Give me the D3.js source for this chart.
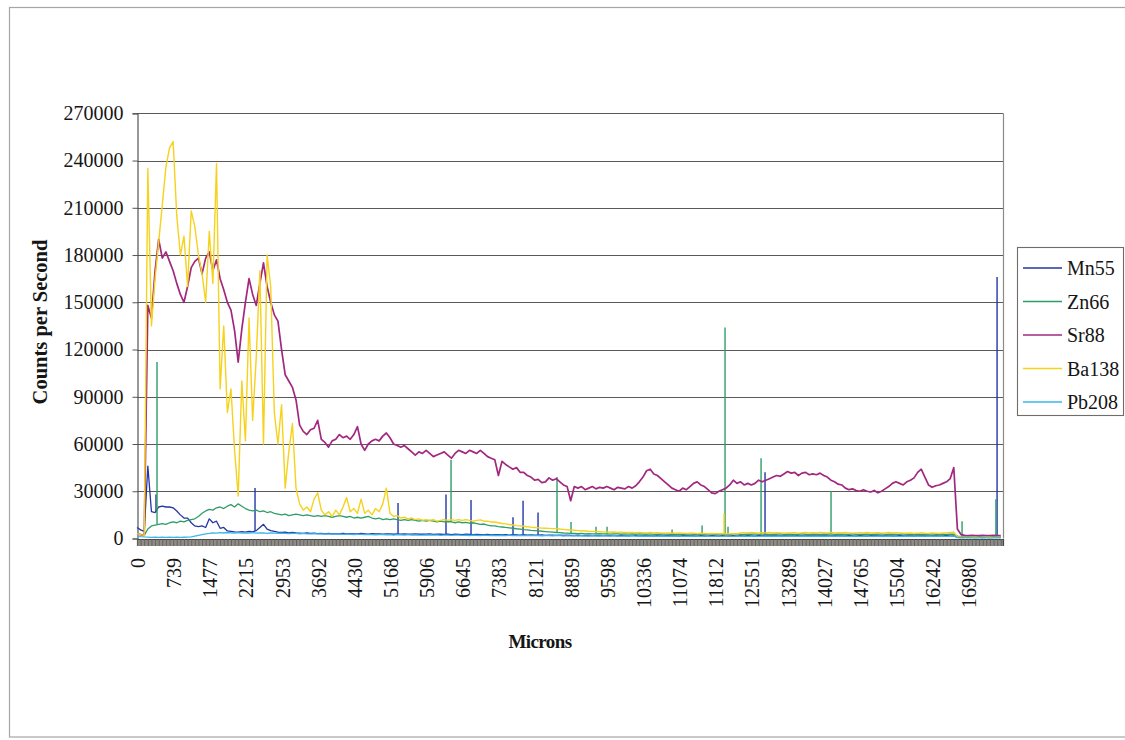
<!DOCTYPE html>
<html>
<head>
<meta charset="utf-8">
<script src="https://cdn.jsdelivr.net/npm/d3@7"></script>
<style>
  html, body { margin: 0; padding: 0; background: #ffffff; }
  svg { display: block; }
  text { font-family: "Liberation Serif", "Times New Roman", serif; fill: #151515; }
</style>
</head>
<body>
<svg id="chart" width="1125" height="740"></svg>
<script>
// Laser-ablation transect: counts per second vs. distance along the track.
const STEP = 73.826;           // microns between samples
const X_MAX = 17690;           // extent of the category axis, microns

const seriesNames = ["Mn55", "Zn66", "Sr88", "Ba138", "Pb208"];
const seriesColors = ["#2236a6", "#2f9d68", "#a2287f", "#f6d21c", "#3cb6ea"];
const seriesWidths = [1.3, 1.3, 1.7, 1.4, 1.3];

const xTickLabels = ["0", "739", "1477", "2215", "2953", "3692", "4430", "5168", "5906",
  "6645", "7383", "8121", "8859", "9598", "10336", "11074", "11812", "12551", "13289",
  "14027", "14765", "15504", "16242", "16980"];
const yTicks = [0, 30000, 60000, 90000, 120000, 150000, 180000, 210000, 240000, 270000];

const mn55 = [
  7000,5500,4500,46000,17000,16500,20000,20500,20000,20000,
  19500,17500,15000,13000,13000,10000,8000,7500,8000,7000,
  12500,10000,11000,6500,7000,4800,4500,4200,4000,4300,
  4000,4500,4200,5000,7000,9000,6000,5000,4500,4000,
  3800,4000,3600,3800,3500,3400,3300,3500,3200,3400,
  3100,3300,3000,3200,2900,3100,3000,3300,2900,3100,
  3000,2900,3200,3000,2800,3100,2900,3000,2800,3000,
  2900,2700,3000,2800,2900,2700,2800,3000,2700,2800,
  2700,2900,2600,2800,2700,2600,2800,2500,2700,2600,
  2500,2700,2600,2400,2600,2500,2400,2600,2300,2500,
  2400,2300,2500,2200,2400,2300,2200,2400,2100,2300,
  2200,2100,2300,2000,2200,2100,2000,2200,1900,2100,
  2000,1900,2100,1800,2000,1900,1800,2000,1900,1800,
  2000,1800,1900,1700,1900,1800,1700,1900,1800,1700,
  1900,1700,1800,1600,1800,1700,1900,1600,1800,1700,
  1600,1800,1700,1900,1600,1700,1800,1600,1700,1900,
  1700,1600,1800,1700,1600,1800,1700,1900,1600,1800,
  1700,1600,1800,1700,1900,1700,1600,1800,1700,1600,
  1800,1700,1900,1600,1700,1800,1600,1700,1900,1700,
  1600,1800,1700,1600,1800,1700,1600,1900,1700,1600,
  1800,1700,1600,1800,1700,1900,1600,1700,1800,1600,
  1700,1900,1600,1800,1700,1600,1800,1700,1600,1800,
  1700,1600,1800,1700,1900,1700,1600,900,800,700,
  800,700,800,700,600,800,700,800,700,800
];

const zn66 = [
  3000,2500,2000,6000,8000,8500,9000,9500,9000,10000,
  10500,10000,11000,10500,11500,12000,12500,14000,16000,17500,
  18500,18000,19500,20000,19000,20500,21500,20000,22000,20500,
  19000,18000,17500,18000,17000,17500,16500,17000,16000,15500,
  15000,15500,14500,15000,15500,15000,14500,15000,14500,14000,
  14500,14000,14500,14000,13500,14000,14500,14000,13500,14000,
  13000,13500,13000,13500,14000,13000,12500,13000,12000,12500,
  12000,12500,12000,11500,12000,11500,12000,11500,11000,11500,
  11000,11500,11000,10500,11000,10500,10800,10500,10000,10500,
  10000,10300,9800,10000,9500,9000,9200,8500,8000,8000,
  7600,7300,7000,6800,6500,6200,6000,5700,5500,5200,
  5000,4800,4600,4400,4200,4000,3800,3700,3500,3400,
  3300,3200,3100,3200,3000,3100,2900,3000,3100,2900,
  3000,2800,3000,2900,2700,2900,2800,3000,2700,2900,
  2800,2700,2900,2600,2800,2700,2900,2600,2800,2700,
  2600,2800,2700,2900,2600,2700,2800,2600,2700,2900,
  2700,2600,2800,2700,2600,2800,2900,2700,2600,2800,
  2700,2900,2600,2800,2700,2600,2800,2700,2900,2600,
  2700,2800,2600,2700,2900,2700,2600,2800,2700,2600,
  2800,2700,2900,2600,2700,2800,2600,2700,2900,2700,
  2600,2800,2700,2600,2800,2700,2900,2600,2700,2800,
  2600,2700,2900,2700,2600,2800,2700,2600,2800,2700,
  2900,2600,2700,2800,2600,2700,2800,1500,1200,1100,
  1200,1100,1000,1200,1100,1000,1100,1200,1000,1100
];

const sr88 = [
  3000,2500,2000,148000,140000,170000,190000,178000,182000,176000,
  170000,162000,155000,150000,160000,172000,176000,178000,168000,178000,
  182000,170000,177000,165000,158000,150000,145000,132000,112000,133000,
  150000,165000,155000,148000,162000,175000,160000,150000,142000,138000,
  120000,104000,100000,96000,88000,72000,68000,66000,69000,70000,
  75000,63000,61000,58000,62000,63000,66000,64000,65000,63000,
  66000,71000,60000,56000,60000,62000,63000,62000,65000,67000,
  64000,60000,59000,58000,59000,57000,55000,53000,55000,54000,
  56000,54000,52000,53000,54000,55000,53000,51000,54000,56000,
  55000,54000,56000,55000,54000,56000,54000,52000,51000,50000,
  40000,49000,47000,45500,44000,45000,42000,42000,40000,39000,
  37000,37500,35500,36000,38500,37000,38000,36000,34000,33000,
  24000,33000,32000,33000,31000,32000,33000,31500,32500,32000,
  33000,32000,31000,32500,32000,31500,33000,32000,33500,36000,
  39000,43000,44000,41000,40000,38000,36000,34000,32000,31000,
  30000,32000,31000,33000,35000,36000,34000,33000,31000,29000,
  28500,30000,31000,32000,34000,37000,35000,36000,34000,35000,
  34000,35000,37000,36000,37000,38000,39000,40000,39500,41000,
  42500,41500,42000,40000,41500,42000,40500,41000,40500,41500,
  40000,39000,37000,36000,34500,34000,32000,31000,31500,30500,
  30000,31000,30000,29500,30500,29000,30000,31500,33000,35000,
  36000,35000,34000,36000,37000,38500,42000,44000,39000,34000,
  32500,33500,34000,35000,36000,38000,45000,6000,2500,2000,
  1800,2000,1900,1800,2000,1900,1800,2000,1900,1800
];

const ba138 = [
  3000,2500,2000,235000,135000,165000,188000,212000,236000,248000,
  252000,205000,180000,192000,160000,208000,198000,180000,168000,150000,
  195000,162000,238000,95000,135000,80000,95000,56000,27000,100000,
  62000,140000,75000,115000,170000,60000,180000,160000,80000,60000,
  85000,32000,55000,73000,32000,22000,18000,20000,17000,25000,
  29000,18000,15000,17000,14000,18000,15000,20000,26000,17000,
  19000,16000,25000,16000,18000,15000,19000,17000,22000,32000,
  16000,14000,14500,13000,13500,12500,13000,12000,12500,11500,
  12000,11500,12000,11000,11500,12000,11500,12000,11500,12000,
  11500,12000,11500,11000,11500,11800,11000,11000,10500,10500,
  10000,9500,9300,8900,8600,8200,8000,7800,7500,7200,
  7000,6800,6600,6500,6400,6300,6300,6000,5800,5600,
  5400,5200,5000,4900,4800,4600,4500,4400,4300,4200,
  4100,4000,4100,3900,4000,3800,3900,3800,3700,3800,
  3700,3600,3800,3500,3700,3600,3400,3600,3500,3300,
  3500,3400,3200,3400,3300,3100,3300,3200,3000,3200,
  3100,3000,3200,3000,3100,2900,3000,3500,3700,3600,
  3800,3600,3500,3700,3600,3800,3500,3700,3600,3400,
  3600,3500,3700,3400,3600,3800,3500,3700,3600,3900,
  3700,3500,3800,3600,3700,3500,3800,3600,3400,3600,
  3700,3500,3800,3600,3500,3700,3400,3600,3800,3500,
  3700,3600,3400,3300,3500,3200,3400,3600,3300,3200,
  3500,3400,3200,3500,3600,3800,4000,1200,1000,900,
  800,900,800,700,800,900,800,700,800,900
];

const pb208 = [
  1500,1200,1000,900,700,800,700,800,700,800,
  700,800,700,800,900,1000,1500,2000,2500,3000,
  3200,3500,3400,3700,3500,3800,3600,3500,3700,3400,
  3600,3500,3700,3400,3500,3600,3300,3500,3400,3200,
  3400,3300,3100,3300,3200,3000,3200,3000,2900,3100,
  2900,3000,2800,3000,2700,2900,2800,2600,2800,2700,
  2500,2700,2600,2400,2600,2500,2300,2500,2400,2300,
  2400,2200,2400,2300,2200,2400,2100,2300,2200,2100,
  2300,2200,2100,2300,2000,2200,2100,2000,2200,2100,
  2000,2200,1900,2100,2000,1900,2100,2000,1900,2000,
  1900,2000,1800,2000,1900,1800,2000,1900,1800,1900,
  1800,1900,1700,1900,1800,1700,1900,1800,1700,1800,
  1700,1800,1600,1800,1700,1600,1800,1700,1600,1800,
  1700,1600,1800,1700,1500,1700,1600,1800,1500,1700,
  1600,1500,1700,1600,1500,1700,1600,1400,1600,1500,
  1700,1500,1400,1600,1500,1700,1400,1500,1600,1400,
  1500,1700,1400,1600,1500,1400,1600,1500,1700,1400,
  1500,1600,1400,1500,1700,1500,1400,1600,1500,1400,
  1600,1500,1700,1400,1500,1600,1400,1500,1700,1500,
  1400,1600,1500,1400,1600,1500,1700,1400,1500,1600,
  1400,1500,1700,1500,1400,1600,1500,1400,1600,1500,
  1700,1400,1500,1600,1400,1500,1600,1400,1500,1700,
  1500,1400,1600,1500,1400,1600,1500,500,400,400,
  500,400,300,400,500,400,300,400,500,400
];

// Single-sample spikes: [position in microns, counts per second]
const mn55Spikes = [[388, 28000], [2411, 32000], [5332, 22500], [6312, 28000], [6823, 24500],
  [7681, 13500], [7886, 24000], [8192, 16500], [12829, 42000], [17569, 166000]];
const zn66Spikes = [[409, 112000], [6415, 50000], [8580, 39000], [8866, 10500], [9377, 7500],
  [9602, 7500], [10930, 5700], [11543, 8200], [12012, 134000], [12073, 7500], [12748, 51000],
  [14177, 30000], [16854, 11000], [17545, 25000]];
const sr88Spikes = [];
const ba138Spikes = [[11992, 16000]];
const pb208Spikes = [];

const seriesValues = [mn55, zn66, sr88, ba138, pb208];
const seriesSpikes = [mn55Spikes, zn66Spikes, sr88Spikes, ba138Spikes, pb208Spikes];
const categories = mn55.map((_, i) => i * STEP);

const svg = d3.select("#chart");

// outer chart frame
svg.append("rect")
  .attr("x", 9.5).attr("y", 7.5).attr("width", 1130).attr("height", 729.5)
  .attr("fill", "none").attr("stroke", "#a9a6a2").attr("stroke-width", 1.2);

const plot = { left: 137, right: 1003, top: 113.3, bottom: 538.5 };

const x = d3.scaleLinear().domain([0, X_MAX]).range([plot.left, plot.right]);
const y = d3.scaleLinear().domain([0, 270000]).range([plot.bottom, plot.top]);

// gridlines
svg.append("g")
  .selectAll("line")
  .data(yTicks.filter(v => v > 0))
  .join("line")
  .attr("x1", plot.left).attr("x2", plot.right)
  .attr("y1", d => Math.round(y(d)) + 0.5).attr("y2", d => Math.round(y(d)) + 0.5)
  .attr("stroke", "#5c5a58").attr("stroke-width", 1.1);

// right border of the plot area
svg.append("line")
  .attr("x1", plot.right + 0.5).attr("x2", plot.right + 0.5)
  .attr("y1", plot.top).attr("y2", plot.bottom)
  .attr("stroke", "#8d8a87").attr("stroke-width", 1.2);

// dense category tick band under the x axis
svg.append("rect")
  .attr("x", plot.left).attr("y", plot.bottom + 1)
  .attr("width", plot.right - plot.left).attr("height", 6.5)
  .attr("fill", "#8f8b87");
const xTicks = svg.append("g")
  .attr("transform", `translate(0,${plot.bottom + 0.5})`)
  .call(d3.axisBottom(x).tickValues(categories).tickSize(7).tickFormat(""));
xTicks.select(".domain").attr("stroke", "#444").attr("stroke-width", 1.2);
xTicks.selectAll(".tick line").attr("stroke", "#66625e").attr("stroke-width", 1);

// y axis
const yAxis = svg.append("g")
  .attr("transform", `translate(${plot.left + 0.5},0)`)
  .call(d3.axisLeft(y).tickValues(yTicks).tickSize(5).tickPadding(9).tickFormat(d3.format("d")));
yAxis.select(".domain").attr("stroke", "#555").attr("stroke-width", 1.2);
yAxis.selectAll(".tick line").attr("stroke", "#555");
yAxis.selectAll(".tick text")
  .attr("font-size", 20)
  .attr("font-family", "'Liberation Serif', serif")
  .attr("fill", "#151515");

// x tick labels, rotated
svg.append("g")
  .selectAll("text")
  .data(xTickLabels)
  .join("text")
  .attr("transform", d => `translate(${x(+d) + 1},558) rotate(-90)`)
  .attr("text-anchor", "end")
  .attr("dy", "0.35em")
  .attr("font-size", 20)
  .text(d => d);

// axis titles
svg.append("text")
  .attr("transform", "translate(47,322) rotate(-90)")
  .attr("text-anchor", "middle")
  .attr("font-size", 20.5)
  .attr("font-weight", "bold")
  .text("Counts per Second");

svg.append("text")
  .attr("x", 540).attr("y", 648)
  .attr("text-anchor", "middle")
  .attr("font-size", 19)
  .attr("font-weight", "bold")
  .attr("letter-spacing", -0.6)
  .text("Microns");

// series
const line = d3.line()
  .x((d, i) => x(categories[i]))
  .y(d => y(d));

const seriesG = svg.append("g").attr("fill", "none").attr("stroke-linejoin", "round");
seriesValues.forEach((vals, k) => {
  const g = seriesG.append("g").attr("stroke", seriesColors[k]).attr("stroke-width", seriesWidths[k]);
  g.append("path").attr("d", line(vals));
  g.selectAll("line.spike")
    .data(seriesSpikes[k])
    .join("line")
    .attr("class", "spike")
    .attr("stroke-width", 1.4)
    .attr("x1", d => x(d[0])).attr("x2", d => x(d[0]))
    .attr("y1", d => y(vals[Math.min(vals.length - 1, Math.round(d[0] / STEP))]))
    .attr("y2", d => y(d[1]));
});

// legend
const legend = svg.append("g");
legend.append("rect")
  .attr("x", 1017.5).attr("y", 247.5).attr("width", 106).attr("height", 168)
  .attr("fill", "#ffffff").attr("stroke", "#6f6c69").attr("stroke-width", 1.1);
seriesNames.forEach((name, k) => {
  const cy = 268 + k * 33.5;
  legend.append("line")
    .attr("x1", 1023).attr("x2", 1062).attr("y1", cy).attr("y2", cy)
    .attr("stroke", seriesColors[k]).attr("stroke-width", 1.3);
  legend.append("text")
    .attr("x", 1067).attr("y", cy).attr("dy", "0.36em")
    .attr("font-size", 20)
    .text(name);
});
</script>
</body>
</html>
